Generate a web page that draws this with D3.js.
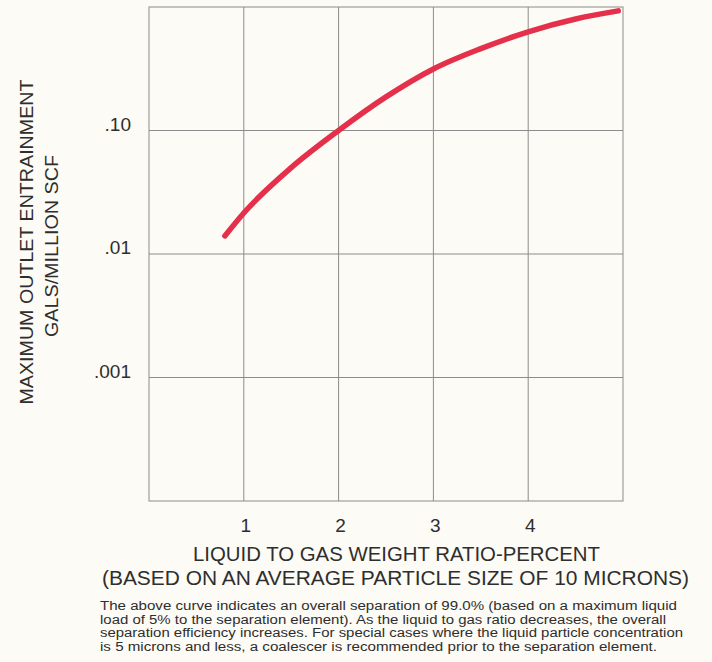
<!DOCTYPE html>
<html>
<head>
<meta charset="utf-8">
<script src="https://cdn.jsdelivr.net/npm/d3@7"></script>
<style>
  html, body { margin: 0; padding: 0; background: #fdfbf5; }
  svg { display: block; }
  text { fill: #2e2e2e; font-family: 'Liberation Sans', Arial, sans-serif; }
</style>
</head>
<body>
<svg id="chart"></svg>
<script>
// values
const ratio = [0.8, 1, 1.5, 2, 2.5, 3, 3.5, 4, 4.5, 4.95];
const entrainment = [0.014, 0.0215, 0.05, 0.1, 0.187, 0.315, 0.46, 0.63, 0.8, 0.93];

const xTicks = [1, 2, 3, 4];
const yTicks = [0.1, 0.01, 0.001];
const yTickLabels = ['.10', '.01', '.001'];

const yTitle = ['MAXIMUM OUTLET ENTRAINMENT', 'GALS/MILLION SCF'];
const xTitle = ['LIQUID TO GAS WEIGHT RATIO-PERCENT', '(BASED ON AN AVERAGE PARTICLE SIZE OF 10 MICRONS)'];
const note = [
  'The above curve indicates an overall separation of 99.0% (based on a maximum liquid',
  'load of 5% to the separation element). As the liquid to gas ratio decreases, the overall',
  'separation efficiency increases. For special cases where the liquid particle concentration',
  'is 5 microns and less, a coalescer is recommended prior to the separation element.'
];

const width = 712, height = 662;
const plot = { left: 149, right: 623, top: 7, bottom: 501 };

const svg = d3.select('#chart').attr('width', width).attr('height', height);

const x = d3.scaleLinear().domain([0, 5]).range([plot.left, plot.right]);
const y = d3.scaleLog().domain([1e-4, 1]).range([plot.bottom, plot.top]);

const grid = svg.append('g').attr('stroke', '#8c8c8c').attr('stroke-width', 1);

grid.selectAll('.vline')
  .data(xTicks)
  .enter()
  .append('line')
  .attr('x1', d => x(d)).attr('x2', d => x(d))
  .attr('y1', plot.top).attr('y2', plot.bottom);

grid.selectAll('.hline')
  .data(yTicks)
  .enter()
  .append('line')
  .attr('x1', plot.left).attr('x2', plot.right)
  .attr('y1', d => y(d)).attr('y2', d => y(d));

grid.append('rect')
  .attr('x', plot.left).attr('y', plot.top)
  .attr('width', plot.right - plot.left)
  .attr('height', plot.bottom - plot.top)
  .attr('fill', 'none');

// tick labels
svg.selectAll('.ylab')
  .data(yTicks)
  .enter()
  .append('text')
  .attr('x', 131)
  .attr('y', d => y(d))
  .attr('font-size', 19)
  .style('text-anchor', 'end')
  .text((d, i) => yTickLabels[i]);

svg.selectAll('.xlab')
  .data(xTicks)
  .enter()
  .append('text')
  .attr('x', d => x(d) + 2)
  .attr('y', 532)
  .attr('font-size', 19)
  .style('text-anchor', 'middle')
  .text(d => d);

// axis titles
const yPos = [[33, 242, 325], [58, 246, 182]];
yTitle.forEach((t, i) => {
  svg.append('text')
    .attr('transform', `translate(${yPos[i][0]},${yPos[i][1]}) rotate(-90)`)
    .attr('font-size', 18)
    .style('text-anchor', 'middle')
    .attr('textLength', yPos[i][2])
    .attr('lengthAdjust', 'spacingAndGlyphs')
    .text(t);
});

const xPos = [[193, 561, 407, 21], [102, 585, 587, 20]];
xTitle.forEach((t, i) => {
  svg.append('text')
    .attr('x', xPos[i][0])
    .attr('y', xPos[i][1])
    .attr('font-size', xPos[i][3])
    .attr('textLength', xPos[i][2])
    .attr('lengthAdjust', 'spacingAndGlyphs')
    .text(t);
});

const noteEnd = [677, 666, 683, 657];
note.forEach((t, i) => {
  svg.append('text')
    .attr('x', 100)
    .attr('y', 610 + i * 13.7)
    .attr('font-size', 12.5)
    .attr('textLength', noteEnd[i] - 100)
    .attr('lengthAdjust', 'spacingAndGlyphs')
    .text(t);
});

// the curve
const line = d3.line()
  .x(d => x(d[0]))
  .y(d => y(d[1]))
  .curve(d3.curveMonotoneX);

svg.append('path')
  .datum(ratio.map((r, i) => [r, entrainment[i]]))
  .attr('d', line)
  .attr('fill', 'none')
  .attr('stroke', '#e5304c')
  .attr('stroke-width', 5.5)
  .attr('stroke-linecap', 'round');
</script>
</body>
</html>
